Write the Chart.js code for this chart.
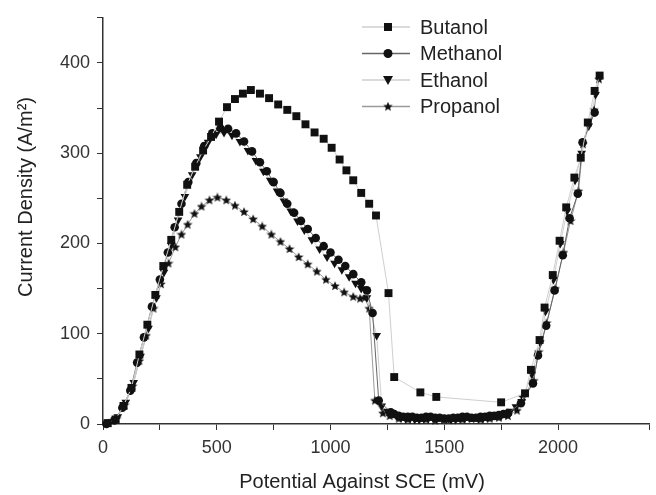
<!DOCTYPE html>
<html lang="en">
<head>
    <meta charset="UTF-8">
    <title>Current Density vs Potential</title>
    <script src="https://cdn.jsdelivr.net/npm/chart.js"></script>
    <style>
        html, body { margin: 0; padding: 0; background: #fff; }
        canvas { display: block; }
    </style>
</head>
<body>
    <canvas id="cvChart" width="656" height="495"></canvas>

    <script>
        // Potential (mV) and current density (A/m²)
        const butanolX = [20, 55, 90, 125, 160, 195, 230, 265, 300, 335, 370, 405, 440, 475, 510, 545, 580, 615, 650, 690, 730, 770, 810, 850, 890, 930, 970, 1005, 1040, 1070, 1100, 1135, 1170, 1200, 1255, 1280, 1395, 1465, 1750, 1855, 1881, 1919, 1941, 1977, 2007, 2036, 2072, 2100, 2131, 2161, 2183];
        const butanolY = [1, 5, 20, 40, 77, 110, 143, 175, 204, 235, 265, 285, 303, 318, 335, 351, 360, 366, 370, 366, 361, 354, 348, 341, 332, 323, 316, 306, 293, 281, 270, 256, 244, 231, 145, 52, 35, 30, 24, 34, 60, 93, 129, 165, 203, 240, 273, 295, 334, 369, 386];

        const methanolX = [15, 50, 85, 120, 150, 180, 215, 250, 285, 315, 345, 375, 410, 445, 480, 515, 550, 585, 620, 655, 690, 720, 750, 780, 810, 840, 870, 900, 935, 970, 1000, 1035, 1065, 1100, 1135, 1160, 1185, 1212, 1265, 1280, 1300, 1320, 1340, 1360, 1380, 1400, 1420, 1440, 1460, 1480, 1500, 1520, 1540, 1560, 1580, 1600, 1620, 1640, 1660, 1680, 1700, 1720, 1740, 1760, 1780, 1837, 1890, 1912, 1948, 1985, 2021, 2051, 2087, 2108, 2161];
        const methanolY = [0, 4, 18, 37, 68, 96, 130, 160, 190, 218, 244, 268, 289, 308, 322, 328, 327, 322, 313, 302, 290, 280, 268, 256, 244, 234, 225, 216, 206, 197, 190, 182, 175, 166, 157, 148, 123, 26, 13, 11, 9, 8, 8, 8, 7, 7, 8, 8, 7, 7, 6, 6, 7, 7, 8, 8, 7, 7, 8, 8, 9, 9, 10, 11, 12, 23, 45, 76, 109, 148, 187, 228, 255, 312, 345];

        const ethanolX = [30, 65, 100, 135, 165, 200, 235, 268, 300, 330, 360, 392, 428, 462, 497, 532, 567, 602, 637, 672, 705, 735, 765, 795, 825, 855, 885, 918, 952, 985, 1018, 1050, 1082, 1110, 1135, 1160, 1203, 1225, 1250, 1270, 1290, 1310, 1330, 1350, 1370, 1390, 1410, 1430, 1450, 1470, 1490, 1510, 1530, 1550, 1570, 1590, 1610, 1630, 1650, 1670, 1690, 1710, 1730, 1750, 1770, 1790, 1815, 1840, 1885, 1922, 1945, 1980, 2010, 2040, 2075, 2104, 2135, 2165];
        const ethanolY = [2, 8, 24, 46, 75, 106, 140, 168, 198, 226, 252, 276, 296, 312, 321, 323, 320, 313, 303, 292, 280, 270, 258, 247, 236, 225, 215, 204, 194, 185, 178, 171, 163, 156, 150, 140, 98, 20, 14, 11, 9, 7, 6, 6, 5, 5, 6, 6, 7, 7, 6, 6, 5, 5, 6, 6, 7, 7, 6, 6, 7, 8, 9, 9, 11, 14, 19, 25, 55, 90, 125, 160, 200, 236, 270, 300, 330, 365];

        const propanolX = [25, 60, 95, 130, 160, 190, 222, 255, 288, 318, 345, 372, 402, 433, 468, 503, 542, 580, 620, 660, 700, 740, 780, 820, 860, 900, 940, 980, 1020, 1060, 1100, 1130, 1150, 1170, 1195, 1230, 1260, 1300, 1340, 1380, 1420, 1460, 1500, 1540, 1580, 1620, 1660, 1700, 1740, 1780, 1820, 1845, 1893, 1915, 1950, 1988, 2024, 2055, 2090, 2110, 2158, 2180];
        const propanolY = [1, 6, 21, 42, 70, 98, 128, 155, 178, 196, 210, 221, 233, 241, 248, 251, 248, 242, 235, 227, 219, 210, 202, 194, 185, 177, 169, 160, 153, 146, 141, 139, 140, 128, 26, 12, 9, 6, 5, 6, 5, 4, 5, 6, 5, 6, 5, 6, 7, 9, 15, 30, 48, 80, 112, 150, 190, 225, 258, 310, 348, 382];

        const seriesNames = ['Butanol', 'Methanol', 'Ethanol', 'Propanol'];

        const FONT = 'Liberation Sans, Arial, sans-serif';

        // small filled star used as the propanol marker
        const starImg = document.createElement('canvas');
        starImg.width = 10;
        starImg.height = 10;
        (function () {
            const c = starImg.getContext('2d');
            c.fillStyle = '#111';
            c.beginPath();
            for (let i = 0; i < 10; i++) {
                const r = i % 2 === 0 ? 5 : 2.2;
                const a = -Math.PI / 2 + i * Math.PI / 5;
                const px = 5 + r * Math.cos(a);
                const py = 5.3 + r * Math.sin(a);
                if (i === 0) c.moveTo(px, py); else c.lineTo(px, py);
            }
            c.closePath();
            c.fill();
        })();

        function toPoints(xs, ys) {
            return xs.map((x, i) => ({ x: x, y: ys[i] }));
        }

        function series(label, xs, ys, lineColor, style, radius, rotation) {
            return {
                label: label,
                data: toPoints(xs, ys),
                showLine: true,
                borderColor: lineColor,
                borderWidth: 1,
                pointStyle: style,
                pointRadius: radius,
                pointRotation: rotation || 0,
                pointBackgroundColor: '#111',
                pointBorderColor: '#111',
                pointBorderWidth: 0,
                tension: 0,
                clip: false
            };
        }

        const datasets = [
            series(seriesNames[0], butanolX, butanolY, '#cfcfcf', 'rect', 5.6),
            series(seriesNames[1], methanolX, methanolY, '#666666', 'circle', 4.3),
            series(seriesNames[2], ethanolX, ethanolY, '#cfcfcf', 'triangle', 5, 180),
            series(seriesNames[3], propanolX, propanolY, '#9a9a9a', starImg, 4)
        ];

        // legend drawn by hand: line through the marker, then the name
        const legendPlugin = {
            id: 'lineLegend',
            afterDraw(chart) {
                const ctx = chart.ctx;
                ctx.save();
                datasets.forEach((ds, i) => {
                    const y = 27 + i * 26.5;
                    ctx.strokeStyle = ds.borderColor;
                    ctx.lineWidth = 1.5;
                    ctx.beginPath();
                    ctx.moveTo(362, y);
                    ctx.lineTo(410, y);
                    ctx.stroke();

                    ctx.fillStyle = '#111';
                    const mx = 388;
                    if (i === 0) {
                        ctx.fillRect(mx - 4, y - 4, 8, 8);
                    } else if (i === 1) {
                        ctx.beginPath();
                        ctx.arc(mx, y, 4.5, 0, Math.PI * 2);
                        ctx.fill();
                    } else if (i === 2) {
                        ctx.beginPath();
                        ctx.moveTo(mx - 5, y - 4);
                        ctx.lineTo(mx + 5, y - 4);
                        ctx.lineTo(mx, y + 5);
                        ctx.closePath();
                        ctx.fill();
                    } else {
                        ctx.drawImage(starImg, mx - 5, y - 5);
                    }

                    ctx.fillStyle = '#222';
                    ctx.font = '20px ' + FONT;
                    ctx.textBaseline = 'middle';
                    ctx.textAlign = 'left';
                    ctx.fillText(ds.label, 420, y + 1);
                });
                ctx.restore();
            }
        };

        // axis titles placed by hand
        const axisTitles = {
            id: 'axisTitles',
            afterDraw(chart) {
                const ctx = chart.ctx;
                ctx.save();
                ctx.fillStyle = '#222';
                ctx.font = '20px ' + FONT;
                ctx.textAlign = 'center';
                ctx.textBaseline = 'middle';
                ctx.fillText('Potential Against SCE (mV)', 362, 482);
                ctx.translate(26, 197);
                ctx.rotate(-Math.PI / 2);
                ctx.fillText('Current Density (A/m²)', 0, 0);
                ctx.restore();
            }
        };

        const whiteBg = {
            id: 'whiteBg',
            beforeDraw(chart) {
                const ctx = chart.ctx;
                ctx.save();
                ctx.fillStyle = '#fff';
                ctx.fillRect(0, 0, chart.width, chart.height);
                ctx.restore();
            }
        };

        new Chart(document.getElementById('cvChart'), {
            type: 'scatter',
            data: { datasets: datasets },
            options: {
                responsive: false,
                animation: false,
                devicePixelRatio: 1,
                layout: { padding: { top: 17, right: 4, left: 0, bottom: 0 } },
                plugins: {
                    legend: { display: false },
                    tooltip: { enabled: false }
                },
                scales: {
                    x: {
                        type: 'linear',
                        min: 0,
                        max: 2400,
                        afterFit(scale) { scale.height = 71; },
                        border: { color: '#333', width: 1.5 },
                        grid: { drawOnChartArea: false, drawTicks: true, tickLength: 6, color: '#333' },
                        ticks: {
                            stepSize: 250,
                            autoSkip: false,
                            maxRotation: 0,
                            padding: 7,
                            color: '#333',
                            font: { family: FONT, size: 18 },
                            callback: v => (v % 500 === 0 ? v : '')
                        }
                    },
                    y: {
                        type: 'linear',
                        min: 0,
                        max: 450,
                        afterFit(scale) { scale.width = 103; },
                        border: { color: '#333', width: 1.5 },
                        grid: { drawOnChartArea: false, drawTicks: true, tickLength: 6, color: '#333' },
                        ticks: {
                            stepSize: 50,
                            autoSkip: false,
                            padding: 7,
                            color: '#333',
                            font: { family: FONT, size: 18 },
                            callback: v => (v % 100 === 0 ? v : '')
                        }
                    }
                }
            },
            plugins: [whiteBg, legendPlugin, axisTitles]
        });
    </script>
</body>
</html>
